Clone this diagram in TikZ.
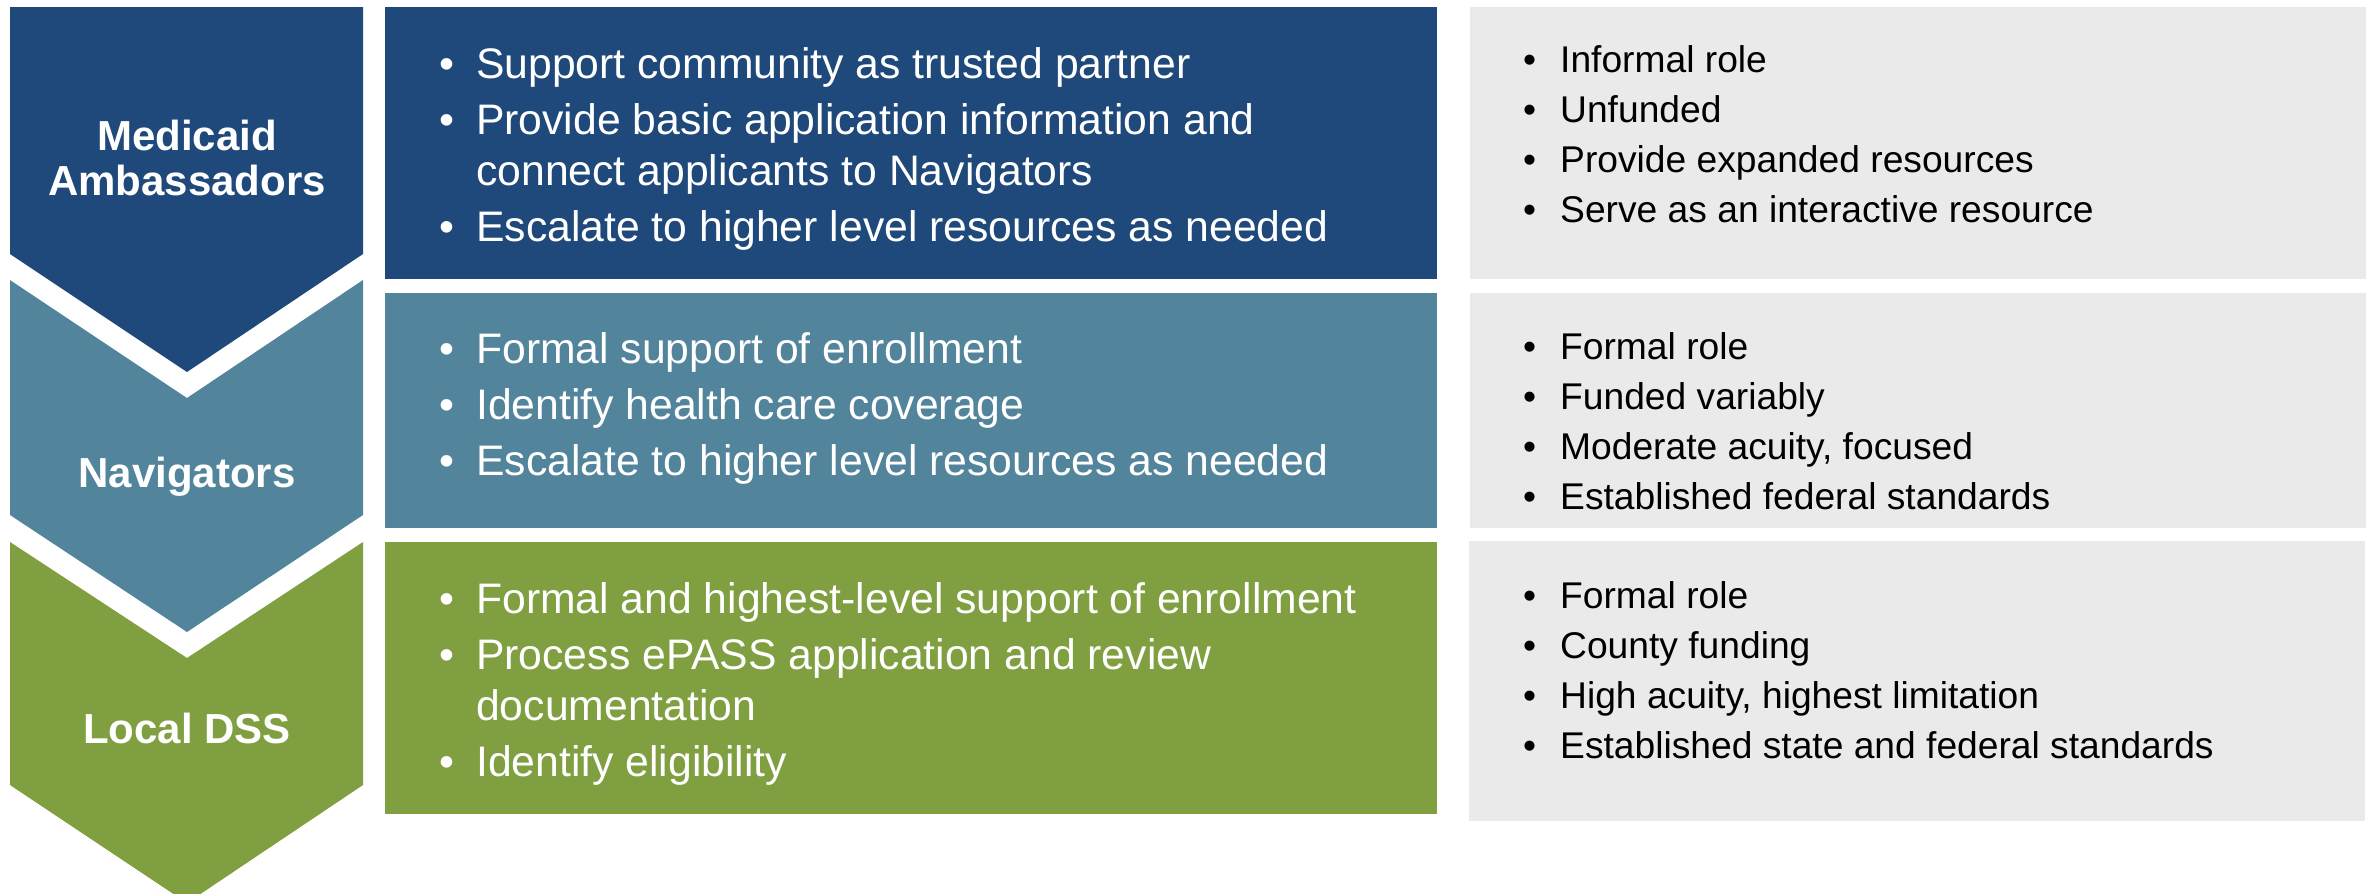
\documentclass[tikz,border=0pt]{standalone}
\usepackage{fontspec}
\setmainfont{Liberation Sans}
\usetikzlibrary{positioning}

\definecolor{ambblue}{RGB}{32,73,123}
\definecolor{navteal}{RGB}{82,132,155}
\definecolor{dssgreen}{RGB}{128,159,65}
\definecolor{notegrey}{RGB}{234,234,234}

\newcommand{\puce}{\makebox[37pt][l]{\textbullet}}

\begin{document}
\begin{tikzpicture}[
      x=1pt, y=-1pt,
      node distance=13pt,
      panel/.style={
        rectangle,
        inner sep=0pt,
        minimum width=1052pt
      },
      note/.style={
        rectangle,
        inner sep=0pt,
        minimum width=896pt,
        fill=notegrey
      },
      role/.style={
        anchor=base,
        inner sep=0pt,
        text=white,
        font=\fontsize{42}{45}\selectfont\bfseries
      },
      puces/.style={
        anchor=base west,
        inner sep=0pt,
        text=white,
        font=\fontsize{42.7}{56}\selectfont
      },
      notes/.style={
        anchor=base west,
        inner sep=0pt,
        text=black,
        font=\fontsize{37.2}{50}\selectfont
      }
    ]
    \path[use as bounding box] (0,0) rectangle (2369,894);
    \clip (0,0) rectangle (2369,894);

    % chevrons
    \fill[ambblue] (10,7) -- (363,7) -- (363,254) -- (187,372) -- (10,254) -- cycle;
    \fill[navteal] (10,280) -- (187,398) -- (363,280) -- (363,515) -- (187,632) -- (10,515) -- cycle;
    \fill[dssgreen] (10,542) -- (187,658) -- (363,542) -- (363,785) -- (187,903) -- (10,785) -- cycle;

    \node[role] (t1) at (187,150) {\begin{tabular}[t]{@{}c@{}}Medicaid\\Ambassadors\end{tabular}};
    \node[role] (t2) at (187,487) {Navigators};
    \node[role] (t3) at (187,743) {Local DSS};

    % boxes
    \node[panel, fill=ambblue, minimum height=272pt, anchor=north west] (m1) at (385,7) {};
    \node[panel, fill=navteal, minimum height=235pt, below=of m1] (m2) {};
    \node[panel, fill=dssgreen, minimum height=272pt, below=14pt of m2] (m3) {};
    \node[note, minimum height=272pt, right=32pt of m1] (r1) {};
    \node[note, minimum height=235pt, right=32pt of m2] (r2) {};
    \node[note, minimum height=280pt, anchor=north west] (r3) at (1469,541) {};

    \node[puces] (p1) at (439,78) {\begin{tabular}[t]{@{}l@{}l@{}}
        \puce & Support community as trusted partner\\
        \puce & Provide basic application information and\\[-5pt]
              & connect applicants to Navigators\\
        \puce & Escalate to higher level resources as needed
      \end{tabular}};
    \node[puces] (p2) at (439,363) {\begin{tabular}[t]{@{}l@{}l@{}}
        \puce & Formal support of enrollment\\
        \puce & Identify health care coverage\\
        \puce & Escalate to higher level resources as needed
      \end{tabular}};
    \node[puces] (p3) at (439,613) {\begin{tabular}[t]{@{}l@{}l@{}}
        \puce & Formal and highest-level support of enrollment\\
        \puce & Process ePASS application and review\\[-5pt]
              & documentation\\
        \puce & Identify eligibility
      \end{tabular}};

    \node[notes] (n1) at (1523,72) {\begin{tabular}[t]{@{}l@{}l@{}}
        \puce & Informal role\\
        \puce & Unfunded\\
        \puce & Provide expanded resources\\
        \puce & Serve as an interactive resource
      \end{tabular}};
    \node[notes] (n2) at (1523,359) {\begin{tabular}[t]{@{}l@{}l@{}}
        \puce & Formal role\\
        \puce & Funded variably\\
        \puce & Moderate acuity, focused\\
        \puce & Established federal standards
      \end{tabular}};
    \node[notes] (n3) at (1523,608) {\begin{tabular}[t]{@{}l@{}l@{}}
        \puce & Formal role\\
        \puce & County funding\\
        \puce & High acuity, highest limitation\\
        \puce & Established state and federal standards
      \end{tabular}};
  \end{tikzpicture}
\end{document}
